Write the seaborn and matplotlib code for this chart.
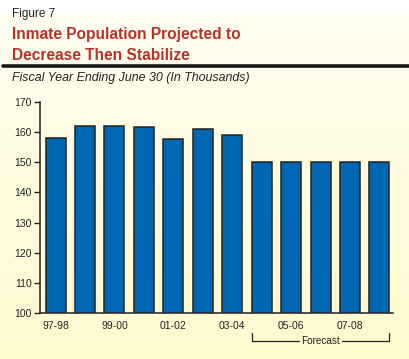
import seaborn as sns
import matplotlib.pyplot as plt
import matplotlib.transforms as mtransforms
import numpy as np
import pandas as pd

years = ['97-98', '98-99', '99-00', '00-01', '01-02', '02-03', '03-04',
         '04-05', '05-06', '06-07', '07-08', '08-09']
inmates = [158, 162, 162, 161.7, 157.7, 161, 159, 150, 150, 150, 150, 150]
shown_labels = ['97-98', '99-00', '01-02', '03-04', '05-06', '07-08']
forecast_start = '04-05'

df = pd.DataFrame({'year': years, 'inmates': inmates})

sns.set_theme(style='ticks')
plt.rcParams['font.family'] = ['Liberation Sans', 'DejaVu Sans']

fig = plt.figure(figsize=(4.09, 3.59), dpi=100)
fig.patch.set_facecolor('white')

# pale yellow gradient background below the white top strip
bg = fig.add_axes([0, 0, 1, 1 - 12 / 359], zorder=-10)
grad = np.linspace(0, 1, 256).reshape(-1, 1)
top = np.array([255, 255, 242]) / 255
bot = np.array([255, 249, 206]) / 255
img = top + (bot - top) * grad[:, :, None]
bg.imshow(img, aspect='auto', extent=[0, 1, 0, 1])
bg.set_axis_off()

# header text
fig.text(12 / 409, 1 - 14 / 359, 'Figure 7', fontsize=8.5, color='#222222',
         va='center', ha='left')
fig.text(12 / 409, 1 - 35 / 359, 'Inmate Population Projected to',
         fontsize=11.2, fontweight='bold', color='#B8312A', va='center')
fig.text(12 / 409, 1 - 55 / 359, 'Decrease Then Stabilize',
         fontsize=11.2, fontweight='bold', color='#B8312A', va='center')
fig.add_artist(plt.Line2D([3 / 409, 1], [1 - 66 / 359, 1 - 66 / 359],
                          color='#1a1a1a', lw=2.6, transform=fig.transFigure))
fig.text(12 / 409, 1 - 78 / 359, 'Fiscal Year Ending June 30 (In Thousands)',
         fontsize=8.95, style='italic', color='#222222', va='center')

ax = fig.add_axes([40 / 409, 1 - 313 / 359, (393 - 40) / 409, (313 - 102) / 359])
ax.patch.set_alpha(0)
sns.barplot(data=df, x='year', y='inmates', order=years, color='#0068B2',
            saturation=1, width=0.68, edgecolor='#222222', linewidth=1.1, ax=ax)

ax.set_ylim(100, 170)
ax.set_yticks(range(100, 171, 10))
ax.set_xlim(-0.53, len(years) - 0.54)
ax.set_xticks(range(len(years)))
ax.set_xticklabels([y if y in shown_labels else '' for y in years])
ax.tick_params(axis='x', length=0, pad=6, labelsize=7.5, colors='#222222')
ax.tick_params(axis='y', length=4, width=1, pad=2, labelsize=7.5, colors='#222222')
ax.set_xlabel('')
ax.set_ylabel('')
sns.despine(ax=ax)
for s in ['left', 'bottom']:
    ax.spines[s].set_color('#222222')
    ax.spines[s].set_linewidth(1.1)

# forecast bracket
trans = mtransforms.blended_transform_factory(ax.transData, ax.transAxes)
x0 = years.index(forecast_start) - 0.34
x1 = len(years) - 1 + 0.34
yb, yt = -0.133, -0.095
xm = (x0 + x1) / 2
ax.plot([x0, x0, xm - 0.73], [yt, yb, yb], color='#222222', lw=0.9,
        transform=trans, clip_on=False)
ax.plot([xm + 0.73, x1, x1], [yb, yb, yt], color='#222222', lw=0.9,
        transform=trans, clip_on=False)
ax.text(xm, yb, 'Forecast', transform=trans, ha='center', va='center',
        fontsize=7.2, color='#222222')

fig.savefig('out.png', dpi=100)
